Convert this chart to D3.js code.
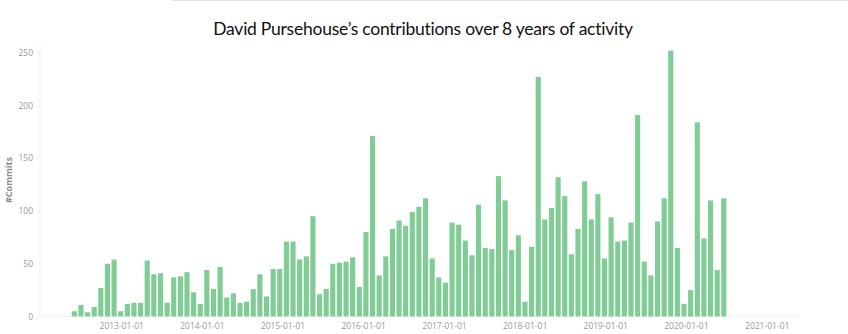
<!DOCTYPE html>
<html>
<head>
<meta charset="utf-8">
<script src="https://cdn.jsdelivr.net/npm/d3@7"></script>
<style>
  html, body { margin: 0; padding: 0; background: #fff; }
  svg { display: block; }
</style>
</head>
<body>
<svg id="chart" width="848" height="334"></svg>
<script>
// ---- data ----
const title = "David Pursehouse\u2019s contributions over 8 years of activity";
const yLabel = "#Commits";
const binStart = "2012-05-19";   // first 30-day bin
const binDays = 30;
const commits = [
  5, 11, 4, 9, 27, 50, 54, 5, 12, 13, 13, 53, 40, 41, 13, 37, 38, 42, 23, 12,
  44, 26, 47, 18, 22, 13, 14, 26, 40, 19, 45, 45, 71, 71, 54, 57, 95, 21, 26, 50,
  51, 52, 56, 28, 80, 171, 39, 57, 83, 91, 86, 99, 104, 112, 55, 37, 32, 89, 87, 72,
  58, 106, 65, 64, 133, 110, 63, 77, 14, 66, 227, 92, 103, 132, 114, 59, 83, 128, 92, 116,
  55, 94, 71, 72, 89, 191, 52, 39, 90, 112, 252, 65, 12, 25, 184, 74, 110, 44, 112
];
const xTickDates = ["2013-01-01","2014-01-01","2015-01-01","2016-01-01","2017-01-01",
                    "2018-01-01","2019-01-01","2020-01-01","2021-01-01"];
const yTicks = [0, 50, 100, 150, 200, 250];

// ---- chart ----
const svg = d3.select("#chart");
const parse = d3.utcParse("%Y-%m-%d");
const fmt = d3.utcFormat("%Y-%m-%d");

const x = d3.scaleUtc()
  .domain([parse("2013-01-01"), parse("2021-01-01")])
  .range([121.2, 766.7]);
const y = d3.scaleLinear().domain([0, 250]).range([316.5, 52.7]);

const start = parse(binStart);
const bins = commits.map((v, i) => ({
  d0: d3.utcDay.offset(start, i * binDays),
  d1: d3.utcDay.offset(start, (i + 1) * binDays),
  v
}));

// top page border
svg.append("line").attr("x1", 172).attr("x2", 848).attr("y1", 0.5).attr("y2", 0.5)
  .attr("stroke", "#e4e4e4").attr("stroke-width", 1);

// title
svg.append("text")
  .attr("x", 423).attr("y", 35)
  .attr("text-anchor", "middle")
  .attr("font-family", "Lato, 'Open Sans', sans-serif")
  .attr("font-size", 17.5)
  .attr("letter-spacing", -0.25)
  .attr("fill", "#111")
  .text(title);

// faint axis lines
svg.append("line").attr("x1", 40).attr("x2", 40).attr("y1", 45).attr("y2", 316.5)
  .attr("stroke", "#f2f2f2");
svg.append("line").attr("x1", 40).attr("x2", 800).attr("y1", 316.5).attr("y2", 316.5)
  .attr("stroke", "#f2f2f2");

// y axis
const yAxis = d3.axisLeft(y).tickValues(yTicks).tickSize(3).tickPadding(4);
const gy = svg.append("g").attr("transform", "translate(40,0)").call(yAxis);
gy.select(".domain").remove();
gy.selectAll(".tick line").attr("stroke", "#eeeeee");
gy.selectAll(".tick text")
  .attr("fill", "#9a9a9a")
  .attr("font-family", "'Open Sans', sans-serif")
  .attr("font-size", 8.5);

// x axis
const xAxis = d3.axisBottom(x).tickValues(xTickDates.map(parse)).tickFormat(fmt).tickSize(0).tickPadding(6);
const gx = svg.append("g").attr("transform", "translate(0,316.5)").call(xAxis);
gx.select(".domain").remove();
gx.selectAll(".tick text")
  .attr("fill", "#9a9a9a")
  .attr("font-family", "'Open Sans', sans-serif")
  .attr("font-size", 8.5);

// y label
svg.append("text")
  .attr("transform", "translate(12,180) rotate(-90)")
  .attr("text-anchor", "middle")
  .attr("font-family", "'Open Sans', sans-serif")
  .attr("font-weight", "bold")
  .attr("font-size", 9)
  .attr("fill", "#8a8a8a")
  .text(yLabel);

// bars
svg.append("g").selectAll("rect").data(bins).join("rect")
  .attr("x", d => x(d.d0) + 0.7)
  .attr("width", d => x(d.d1) - x(d.d0) - 1.5)
  .attr("y", d => y(d.v))
  .attr("height", d => y(0) - y(d.v))
  .attr("fill", "#7fcd95");
</script>
</body>
</html>
